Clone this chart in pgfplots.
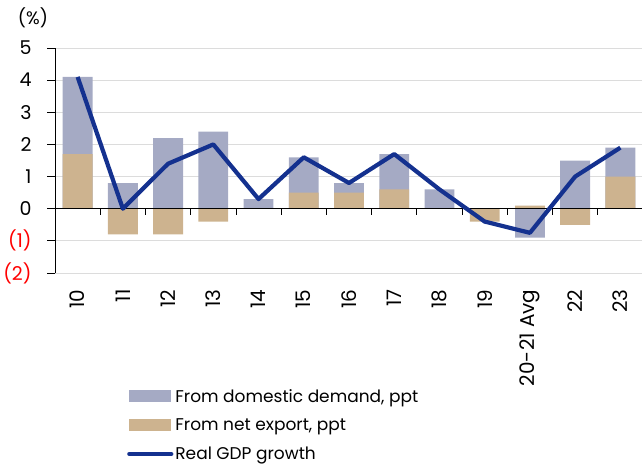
\documentclass[border=0pt]{standalone}
\usepackage{pgfplots}
\pgfplotsset{compat=1.18}
\usepackage{fontspec}
\setmainfont{Poppins}
\definecolor{dom}{HTML}{A5AAC4}
\definecolor{nex}{HTML}{CDB38F}
\definecolor{gdp}{HTML}{14318F}
\definecolor{gridc}{HTML}{DCDCDC}
\begin{document}
\begin{tikzpicture}
\begin{axis}[
  scale only axis, width=588bp, height=225bp,
  xmin=-0.5, xmax=12.5, ymin=-2, ymax=5,
  axis lines*=left,
  x axis line style={draw=none},
  y axis line style={black, line width=0.8bp},
  xtick={0,...,12},
  xticklabels={10,11,12,13,14,15,16,17,18,19,20-21 Avg,22,23},
  major x tick style={draw=none},
  xticklabel style={rotate=90, anchor=east, xshift=-5bp, font=\fontsize{20bp}{22bp}\selectfont},
  ytick={-2,...,5},
  yticklabels={\textcolor{red}{(2)},\textcolor{red}{(1)},0,1,2,3,4,5},
  major y tick style={black, line width=0.8bp},
  tick align=outside, major tick length=8bp,
  yticklabel style={xshift=-12bp, font=\fontsize{19bp}{22bp}\selectfont},
  ymajorgrids, grid style={gridc, line width=1bp},
  /pgf/number format/assume math mode=true,
  clip=false,
  legend style={at={(0,0)}, anchor=north west, xshift=72bp, yshift=-114bp,
    draw=none, fill=none, font=\fontsize{17bp}{20bp}\selectfont,
    row sep=11bp, inner sep=0pt, cells={anchor=west}},
  legend cell align=left,
]
% grey bars drawn to the top of the domestic-demand segment
\addplot[ybar, bar width=0.66, bar shift=0pt, fill=dom, draw=none,
  area legend, legend image code/.code={\fill[dom] (0bp,-6bp) rectangle (42bp,6bp);}]
  coordinates {(0,4.1) (1,0.8) (2,2.2) (3,2.4) (4,0.3) (5,1.6) (6,0.8) (7,1.7) (8,0.6) (9,0.0) (10,-0.9) (11,1.5) (12,1.9)};
\addlegendentry{From domestic demand, ppt}
\addplot[ybar, bar width=0.66, bar shift=0pt, fill=nex, draw=none,
  area legend, legend image code/.code={\fill[nex] (0bp,-6bp) rectangle (42bp,6bp);}]
  coordinates {(0,1.7) (1,-0.8) (2,-0.8) (3,-0.4) (4,0.0) (5,0.5) (6,0.5) (7,0.6) (8,0.0) (9,-0.4) (10,0.1) (11,-0.5) (12,1.0)};
\addlegendentry{From net export, ppt}
\draw[black, line width=0.8bp] (axis cs:-0.5,0) -- (axis cs:12.5,0);
\draw[black, line width=0.8bp]
  (axis cs:0.5,0) -- (axis cs:0.5,-0.19)
  (axis cs:1.5,0) -- (axis cs:1.5,-0.19)
  (axis cs:2.5,0) -- (axis cs:2.5,-0.19)
  (axis cs:3.5,0) -- (axis cs:3.5,-0.19)
  (axis cs:4.5,0) -- (axis cs:4.5,-0.19)
  (axis cs:5.5,0) -- (axis cs:5.5,-0.19)
  (axis cs:6.5,0) -- (axis cs:6.5,-0.19)
  (axis cs:7.5,0) -- (axis cs:7.5,-0.19)
  (axis cs:8.5,0) -- (axis cs:8.5,-0.19)
  (axis cs:9.5,0) -- (axis cs:9.5,-0.19)
  (axis cs:10.5,0) -- (axis cs:10.5,-0.19)
  (axis cs:11.5,0) -- (axis cs:11.5,-0.19);
\addplot[gdp, line width=4.2bp, line join=round,
  legend image code/.code={\draw[gdp, line width=4.2bp, line cap=round] (0bp,0bp) -- (42bp,0bp);}]
  coordinates {(0,4.1) (1,0.0) (2,1.4) (3,2.0) (4,0.3) (5,1.6) (6,0.8) (7,1.7) (8,0.6) (9,-0.4) (10,-0.75) (11,1.0) (12,1.9)};
\addlegendentry{Real GDP growth}
\end{axis}
\node[font=\fontsize{18bp}{20bp}\selectfont] at ([xshift=-22bp,yshift=30bp]current axis.north west) {(\%)};
\pgfresetboundingbox
\path[use as bounding box] ([xshift=-55bp,yshift=-193bp]current axis.south west) rectangle ++(642bp,466bp);
\end{tikzpicture}
\end{document}
